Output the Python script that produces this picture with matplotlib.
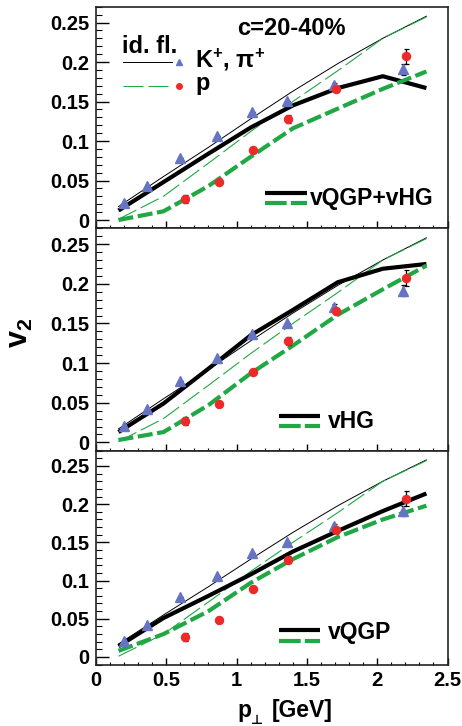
import matplotlib
matplotlib.use("Agg")
import matplotlib.pyplot as plt
from matplotlib.lines import Line2D
from matplotlib.ticker import MultipleLocator, FuncFormatter

plt.rcParams['font.family'] = ['Liberation Sans', 'DejaVu Sans']
plt.rcParams['font.weight'] = 'bold'
plt.rcParams['mathtext.fontset'] = 'custom'
plt.rcParams['mathtext.rm'] = 'Liberation Sans:bold'
plt.rcParams['mathtext.bf'] = 'Liberation Sans:bold'
plt.rcParams['mathtext.it'] = 'Liberation Sans:bold'

# measured v2(pT), 20-40% centrality
pt_kpi = [0.20, 0.36, 0.60, 0.86, 1.11, 1.36, 1.69, 2.18]
v2_kpi = [0.021, 0.0425, 0.078, 0.106, 0.1365, 0.151, 0.171, 0.191]
err_kpi = [0.0, 0.0, 0.0, 0.0, 0.0, 0.0, 0.003, 0.007]

pt_p = [0.63, 0.876, 1.12, 1.366, 1.707, 2.207]
v2_p = [0.0265, 0.048, 0.089, 0.1274, 0.166, 0.207]
err_p = [0.005, 0.0, 0.0, 0.005, 0.004, 0.010]

# model curves on a common pT grid
pt_model = [0.16, 0.48, 0.8, 1.1, 1.4, 1.72, 2.04, 2.35]
# ideal fluid
idf_kpi = [0.017, 0.055, 0.092, 0.128, 0.163, 0.198, 0.230, 0.258]
idf_p = [0.001, 0.030, 0.072, 0.112, 0.150, 0.189, 0.230, 0.257]
# viscous QGP + viscous HG
qh_kpi = [0.012, 0.048, 0.084, 0.117, 0.145, 0.167, 0.182, 0.167]
qh_p = [0.000, 0.011, 0.043, 0.080, 0.116, 0.141, 0.166, 0.188]
# viscous HG only
hg_kpi = [0.013, 0.049, 0.093, 0.135, 0.167, 0.202, 0.219, 0.225]
hg_p = [0.003, 0.013, 0.047, 0.087, 0.122, 0.161, 0.193, 0.223]
# viscous QGP only
qgp_kpi = [0.014, 0.051, 0.080, 0.108, 0.138, 0.165, 0.191, 0.214]
qgp_p = [0.008, 0.030, 0.060, 0.097, 0.128, 0.157, 0.180, 0.198]

panel_labels = ["vQGP+vHG", "vHG", "vQGP"]
panel_kpi = [qh_kpi, hg_kpi, qgp_kpi]
panel_p = [qh_p, hg_p, qgp_p]

y_ticks = [0, 0.05, 0.1, 0.15, 0.2, 0.25]
x_ticks = [0, 0.5, 1, 1.5, 2, 2.5]

GREEN = '#1fa843'
BLUE = '#6674c4'
RED = '#ec2a2a'

W, H = 462, 726
fig = plt.figure(figsize=(W / 100, H / 100), dpi=100)


def fx(x):
    return x / W


def fy(y):
    return 1 - y / H


# panel frames in pixel rows (top, bottom)
frames = [(6.7, 228.3), (228.3, 450.7), (450.7, 665.0)]
left_px, right_px = 96.0, 447.5

axes = []
for (top, bot) in frames:
    ax = fig.add_axes([fx(left_px), fy(bot), (right_px - left_px) / W, (bot - top) / H])
    axes.append(ax)


def fmt(v, pos):
    return ('%g' % round(v, 3))


for i, ax in enumerate(axes):
    ax.set_xlim(0, 2.5)
    ax.set_ylim(-0.0105, 0.270)
    ax.set_xticks(x_ticks)
    ax.xaxis.set_minor_locator(MultipleLocator(0.1))
    ax.set_yticks(y_ticks)
    ax.yaxis.set_minor_locator(MultipleLocator(0.01))
    ax.yaxis.set_major_formatter(FuncFormatter(fmt))
    ax.xaxis.set_major_formatter(FuncFormatter(fmt))
    ax.tick_params(axis='y', which='major', direction='in', length=9.5, width=1.0,
                   labelsize=14.5, pad=5, right=False)
    ax.tick_params(axis='y', which='minor', direction='in', length=4.5, width=0.8, right=False)
    ax.tick_params(axis='x', which='major', direction='in', length=5, width=1.0,
                   labelsize=14.5, pad=4, top=False)
    ax.tick_params(axis='x', which='minor', direction='in', length=2.2, width=0.8, top=False)
    for lab in ax.get_yticklabels() + ax.get_xticklabels():
        lab.set_fontweight('bold')
    if i < 2:
        ax.tick_params(axis='x', labelbottom=False)
    for s in ax.spines.values():
        s.set_linewidth(1.2)
        s.set_color('#222222')

    # ideal-fluid reference curves
    ax.plot(pt_model, idf_kpi, color='black', lw=0.7, zorder=3)
    ax.plot(pt_model, idf_p, color=GREEN, lw=0.8, dashes=(18, 4.5), zorder=3)
    # viscous model curves
    ax.plot(pt_model, panel_kpi[i], color='black', lw=3.0, zorder=4,
            solid_capstyle='butt')
    ax.plot(pt_model, panel_p[i], color=GREEN, lw=3.0, dashes=(3.6, 1.1), zorder=4,
            dash_capstyle='butt')

    # data
    ax.errorbar(pt_kpi, v2_kpi, yerr=err_kpi, fmt='^', ms=7, color=BLUE,
                mec=BLUE, ecolor='black', elinewidth=0.9, capsize=1.8, capthick=0.9, zorder=5)
    ax.errorbar(pt_p, v2_p, yerr=err_p, fmt='o', ms=5.8, color=RED,
                mec=RED, ecolor='black', elinewidth=0.9, capsize=1.8, capthick=0.9, zorder=5)


def leg_line(x0, x1, y, **kw):
    fig.add_artist(Line2D([fx(x0), fx(x1)], [fy(y), fy(y)], transform=fig.transFigure, **kw))


def leg_marker(x, y, **kw):
    fig.add_artist(Line2D([fx(x)], [fy(y)], transform=fig.transFigure, lw=0, **kw))


# top panel legend
fig.text(fx(237), fy(35), "c=20-40%", fontsize=17, fontweight='bold', ha='left', va='baseline')
fig.text(fx(121.5), fy(52.7), "id. fl.", fontsize=17, fontweight='bold', ha='left', va='baseline')
leg_line(123, 172, 61.7, color='black', lw=0.7)
leg_marker(179.3, 61.5, marker='^', ms=4.2, color=BLUE)
fig.text(fx(195), fy(67.7), r"K$^{+}$, $\pi^{+}$", fontsize=17, fontweight='bold',
         ha='left', va='baseline')
leg_line(123, 172, 86, color=GREEN, lw=0.8, dashes=(18, 4.5))
leg_marker(179.3, 86, marker='o', ms=4.0, color=RED)
fig.text(fx(195), fy(90), "p", fontsize=17, fontweight='bold', ha='left', va='baseline')

# model legends per panel
leg_specs = [
    (265, 307, 193.3, 202.7, 310, 205.0),
    (279, 320, 415.7, 425.7, 328, 428.3),
    (279, 320, 630.0, 640.7, 328, 638.5),
]
for (x0, x1, yb, yg, xt, yt), lab in zip(leg_specs, panel_labels):
    leg_line(x0, x1, yb, color='black', lw=3.0, solid_capstyle='butt')
    leg_line(x0, x1, yg, color=GREEN, lw=3.0, dashes=(5.2, 1.0), dash_capstyle='butt')
    fig.text(fx(xt), fy(yt), lab, fontsize=16.5, fontweight='bold', ha='left', va='baseline')

# axis titles
fig.text(fx(20), fy(333), r"v$_{2}$", fontsize=22, fontweight='bold', rotation=90,
         ha='center', va='center')
fig.text(fx(237), fy(717), "p", fontsize=16.5, fontweight='bold', ha='left', va='baseline')
fig.text(fx(256.5), fy(723.5), "\u22a5", fontsize=9.5, fontweight='bold', ha='center',
         va='baseline', family=['DejaVu Sans'])
fig.text(fx(271.5), fy(717), "[GeV]", fontsize=16.5, fontweight='bold', ha='left', va='baseline')

fig.savefig("out.png", dpi=100)
